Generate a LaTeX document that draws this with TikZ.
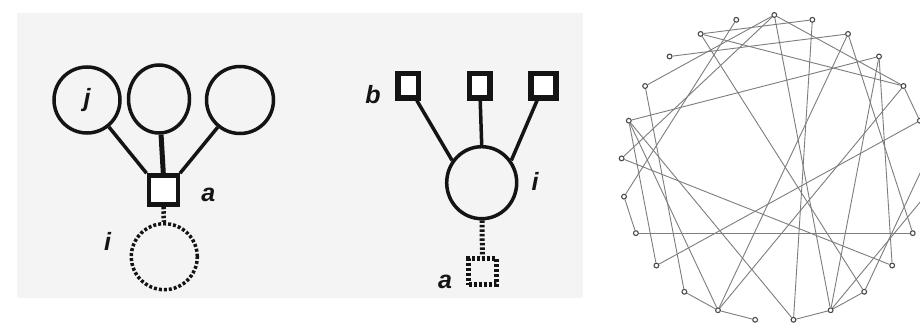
\documentclass[tikz,border=0pt]{standalone}
\usepackage{fontspec}
\setmainfont{Liberation Sans}
\usetikzlibrary{shapes.geometric}
\definecolor{panelgray}{RGB}{244,244,244}
\definecolor{ink}{RGB}{20,20,20}
\definecolor{gline}{RGB}{125,125,125}
\definecolor{gnodec}{RGB}{75,75,75}
\begin{document}
\begin{tikzpicture}[x=1pt,y=-1pt,
  lbl/.style={font=\fontsize{25}{25}\selectfont\bfseries\itshape, text=ink, inner sep=0pt},
  bigc/.style={circle, draw=ink, line width=3.5, inner sep=0pt},
  bige/.style={ellipse, draw=ink, line width=3.5, inner sep=0pt},
  sqa/.style={rectangle, draw=ink, fill=white, line width=4.5, inner sep=0pt},
  dotc/.style={circle, draw=ink, line width=3.5, dash pattern=on 3pt off 2pt, inner sep=0pt},
  dotsq/.style={rectangle, draw=ink, line width=4.5, dash pattern=on 3pt off 2pt, inner sep=0pt},
  link/.style={draw=ink, line width=3.5},
  dotlink/.style={draw=ink, line width=4.5, dash pattern=on 2.5pt off 2pt},
  gnode/.style={circle, draw=gnodec, fill=white, line width=1.1, minimum size=4.8, inner sep=0pt},
  gedge/.style={draw=gline, line width=0.9}]
\useasboundingbox (0,0) rectangle (920,324);
\clip (0,0) rectangle (920,324);
\fill[white] (0,0) rectangle (920,324);
\fill[panelgray] (17,13) rectangle (583,298);

% ---------- left diagram ----------
\node[bigc, lbl, minimum size=66] (j) at (87,100) {j};
\node[bige, minimum width=61, minimum height=68] (m) at (159,99) {};
\node[bigc, minimum size=67] (r) at (240,100) {};
\node[sqa, minimum size=29] (sa) at (163.3,190) {};
\draw[link] (j) -- (sa.north west);
\draw[link, line width=5] (m) -- (sa.north);
\draw[link] (r) -- (sa.north east);
\node[dotc, minimum size=66] (di) at (164.3,256.7) {};
\draw[dotlink] (sa) -- (di);
\node[lbl] (la1) at (208.3,194.5) {a};
\node[lbl] (li1) at (107.5,241) {i};

% ---------- middle diagram ----------
\node[sqa, line width=5.5, minimum width=20.5, minimum height=24.5] (sb) at (408,85.5) {};
\node[sqa, line width=5.5, minimum width=20.5, minimum height=24.5] (sm) at (479.7,85.5) {};
\node[sqa, line width=5.5, minimum width=25, minimum height=24.5] (sr) at (543.5,85.5) {};
\node[bige, minimum width=70, minimum height=72] (ci) at (481.7,182.7) {};
\draw[link] (sb) -- (ci.143);
\draw[link] (sm) -- (ci.north);
\draw[link] (sr) -- (ci.37);
\node[dotsq, minimum width=27.6, minimum height=26] (da) at (482.5,271.7) {};
\draw[dotlink, line width=5] (ci) -- (da);
\node[lbl] (lb) at (373,95) {b};
\node[lbl] (li2) at (535,181.7) {i};
\node[lbl] (la2) at (445,281.7) {a};

% ---------- random graph ----------
\begin{scope}[shift={(774.3,168)}]
  \foreach \k in {0,...,24}
    \node[gnode] (k\k) at ({-90-14.4*\k}:153) {};
\end{scope}
\foreach \a/\b in {0/4,0/6,0/14,0/21,1/7,2/24,2/21,2/15,3/23,4/10,5/22,5/9,5/11,5/13,6/16,7/8,8/17,9/20,10/11,11/12,11/23,11/21,13/24,13/14,14/22,14/18,15/19,16/22,17/23,20/21,14/15}
  \draw[gedge] (k\a) -- (k\b);
\end{tikzpicture}
\end{document}
